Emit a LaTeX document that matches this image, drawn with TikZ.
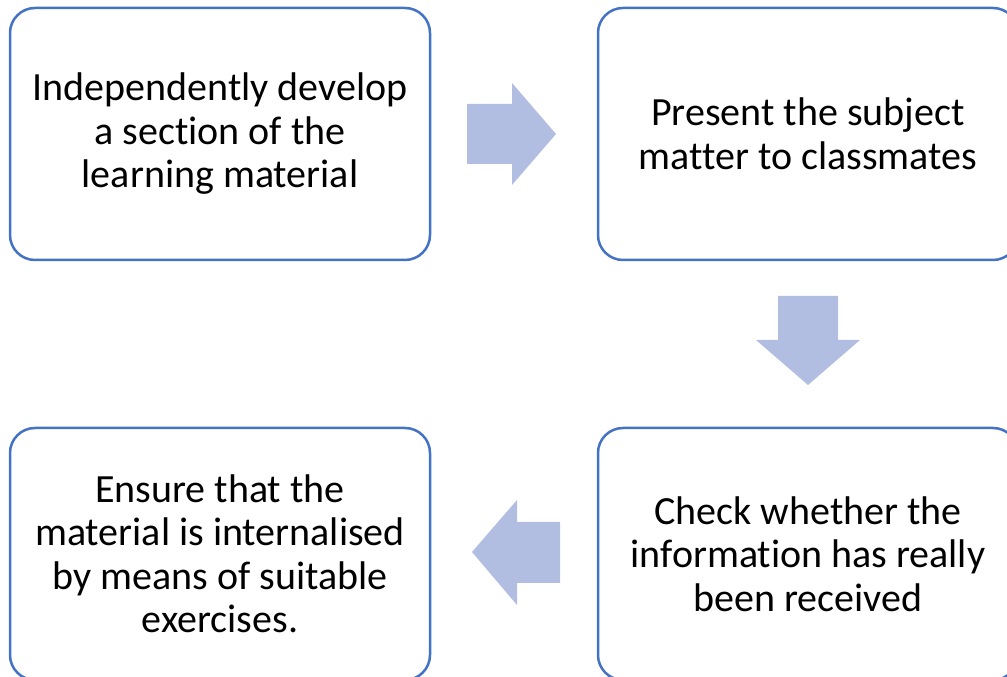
\documentclass[tikz,border=0pt]{standalone}
\usepackage{fontspec}
\setmainfont{Carlito}[Ligatures={NoCommon}]
\usepackage{tikz}
\usetikzlibrary{calc}

\definecolor{boxblue}{RGB}{68,114,196}
\definecolor{arrowblue}{RGB}{177,190,225}

\begin{document}
\begin{tikzpicture}[x=1pt, y=1pt,
    stepbox/.style={draw=boxblue, line width=2.5pt, rounded corners=25pt, fill=white,
      minimum width=420pt, minimum height=252pt, align=center,
      font=\fontsize{40}{43.5}\selectfont},
    blockarrow/.style={fill=arrowblue}]
        % Frame
        \useasboundingbox (0, 0) rectangle (1007, 677);
        \clip (0, 0) rectangle (1007, 677);

        % Steps
        \node[stepbox] (develop) at (220, 543) {Independently develop\\a section of the\\learning material};
        \node[stepbox] (present) at (808, 543) {Present the subject\\matter to classmates};
        \node[stepbox] (check) at (808, 123) {Check whether the\\information has really\\been received};
        \node[stepbox] (ensure) at (220, 123) {Ensure that the\\material is internalised\\by means of suitable\\exercises.};

        % Right arrow
        \fill[blockarrow] (467, 513) -- (512, 513) -- (512, 492) -- (556, 543)
            -- (512, 594) -- (512, 573) -- (467, 573) -- cycle;

        % Down arrow
        \fill[blockarrow] (778, 381) -- (838, 381) -- (838, 337) -- (860, 337)
            -- (808, 292) -- (756, 337) -- (778, 337) -- cycle;

        % Left arrow
        \fill[blockarrow] (560, 155) -- (517, 155) -- (517, 177) -- (472, 125)
            -- (517, 72) -- (517, 94) -- (560, 94) -- cycle;
    \end{tikzpicture}
\end{document}
